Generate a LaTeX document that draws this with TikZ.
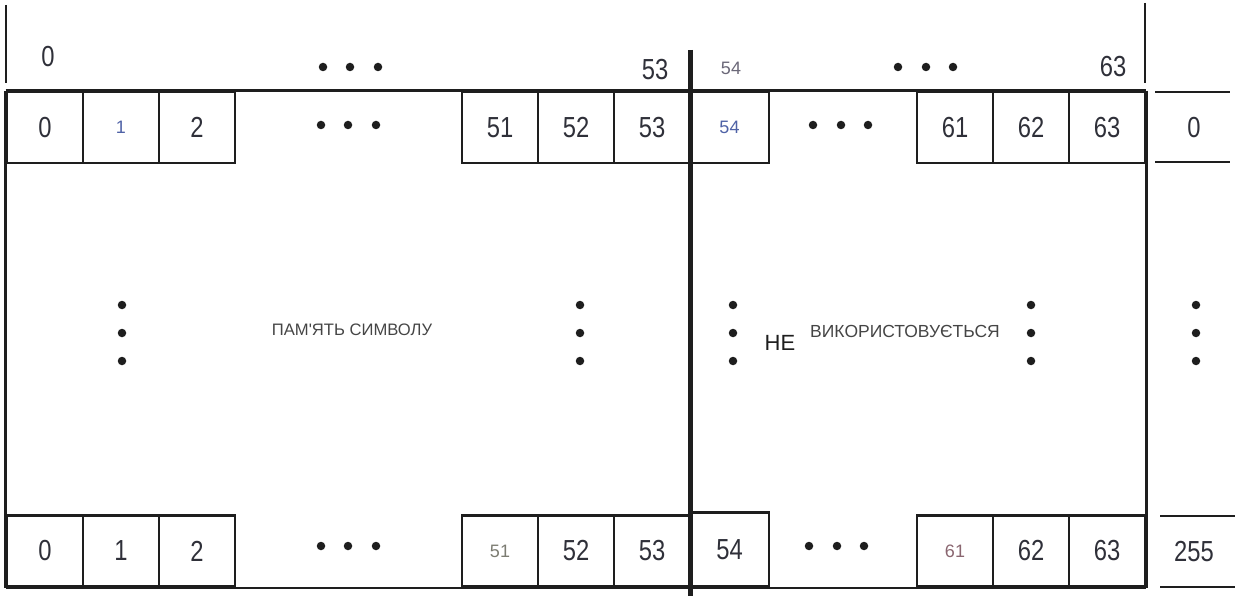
\documentclass[tikz,border=0pt]{standalone}
\usepackage{fontspec}
\newfontfamily\numfont[FakeStretch=0.82]{Liberation Sans}
\newfontfamily\labfont{Liberation Sans}
\definecolor{ink}{HTML}{1E1E1E}
\definecolor{num}{HTML}{2F3039}
\definecolor{bluenum}{HTML}{4F62A6}
\definecolor{graynum}{HTML}{6B6878}
\definecolor{olivenum}{HTML}{7C7C72}
\definecolor{mauvenum}{HTML}{8A6670}
\definecolor{labgray}{HTML}{454545}
\newcommand{\smallnum}[2]{\textcolor{#1}{\labfont\fontsize{18}{20}\selectfont #2}}
\begin{document}
\begin{tikzpicture}[x=1pt,y=-1pt,
  line width=2.8pt, draw=ink,
  cell/.style={draw=ink, line width=2.8pt, minimum width=76pt, minimum height=71pt,
    inner sep=0pt, text=num, font=\numfont\fontsize{29}{30}\selectfont},
  big/.style={text=num, font=\numfont\fontsize{29}{30}\selectfont, inner sep=0pt},
  small/.style={font=\labfont\fontsize{18}{20}\selectfont, inner sep=0pt},
  dot/.style={circle, fill=ink, inner sep=0pt, minimum size=8.5pt},
  memlabel/.style={text=labgray, inner sep=0pt}]
\useasboundingbox (0,0) rectangle (1240,596);

% ---- first character row ----
\node[cell] (t0)  at (45,127.5)  {0};
\node[cell] (t1)  at (121,127.5) {\smallnum{bluenum}{1}};
\node[cell] (t2)  at (197,127.5) {2};
\node[cell] (t51) at (500,127.5) {51};
\node[cell] (t52) at (576,127.5) {52};
\node[cell] (t53) at (652,127.5) {53};
\node[cell, minimum width=79pt] (t54) at (729.5,127.5) {\smallnum{bluenum}{54}};
\node[cell] (t61) at (955,127.5)  {61};
\node[cell] (t62) at (1031,127.5) {62};
\node[cell] (t63) at (1107,127.5) {63};

% ---- last character row ----
\node[cell] (b0)  at (45,551)  {0};
\node[cell] (b1)  at (121,551) {1};
\node[cell] (b2)  at (197,551) {2};
\node[cell] (b51) at (500,551) {\smallnum{olivenum}{51}};
\node[cell] (b52) at (576,551) {52};
\node[cell] (b53) at (652,551) {53};
\node[cell, minimum width=79pt, minimum height=74pt] (b54) at (729.5,549.5) {54};
\node[cell] (b61) at (955,551)  {\smallnum{mauvenum}{61}};
\node[cell] (b62) at (1031,551) {62};
\node[cell] (b63) at (1107,551) {63};

% ---- outer frame of the memory area ----
\draw (t0.north west) -- (t63.north east);
\draw (b0.south west) -- (b63.south east);
\draw (t0.north west) -- (b0.south west);
\draw (t63.north east) -- (b63.south east);

% ---- stubs above the frame ----
\coordinate (ls1) at (6,5);   \coordinate (ls2) at (6,83);
\coordinate (rs1) at (1145,3); \coordinate (rs2) at (1145,83);
\draw (ls1) -- (ls2);
\draw (rs1) -- (rs2);

% ---- divider between used and unused memory ----
\coordinate (d1) at (690,50); \coordinate (d2) at (690,596);
\draw[line width=5pt] (d1) -- (d2);

% ---- column numbers ----
\node[big] (h0)  at (48,57)  {0};
\node[big] (h53) at (655,70) {53};
\node[small, text=graynum] (h54) at (731,68) {54};
\node[big] (h63) at (1113,67) {63};
\node[dot] (hd1) at (323,67) {}; \node[dot] (hd2) at (350,67) {}; \node[dot] (hd3) at (378,67) {};
\node[dot] (hd4) at (898,67) {}; \node[dot] (hd5) at (926,67) {}; \node[dot] (hd6) at (953,67) {};

% ---- horizontal ellipses in the rows ----
\node[dot] (td1) at (321,125) {}; \node[dot] (td2) at (348,125) {}; \node[dot] (td3) at (376,125) {};
\node[dot] (td4) at (813,125) {}; \node[dot] (td5) at (841,125) {}; \node[dot] (td6) at (868,125) {};
\node[dot] (bd1) at (321,546) {}; \node[dot] (bd2) at (348,546) {}; \node[dot] (bd3) at (376,546) {};
\node[dot] (bd4) at (809,546) {}; \node[dot] (bd5) at (837,546) {}; \node[dot] (bd6) at (864,546) {};

% ---- vertical ellipses ----
\foreach \x/\n in {122/a,580/b,733/c,1031/d,1196/e}{
  \node[dot] (v\n1) at (\x,305) {};
  \node[dot] (v\n2) at (\x,333) {};
  \node[dot] (v\n3) at (\x,361) {};
}

% ---- row numbers on the right ----
\coordinate (r1a) at (1155,92);  \coordinate (r1b) at (1230,92);
\coordinate (r2a) at (1155,162); \coordinate (r2b) at (1230,162);
\coordinate (r3a) at (1160,516); \coordinate (r3b) at (1235,516);
\coordinate (r4a) at (1160,587); \coordinate (r4b) at (1235,587);
\draw (r1a) -- (r1b); \draw (r2a) -- (r2b);
\draw (r3a) -- (r3b); \draw (r4a) -- (r4b);
\node[big] (row0)   at (1194,128) {0};
\node[big] (row255) at (1194,552) {255};

% ---- area labels ----
\node[memlabel, font=\labfont\fontsize{16.6}{18}\selectfont] (mem) at (352,330) {ПАМ'ЯТЬ СИМВОЛУ};
\node[text=ink, font=\labfont\fontsize{22}{24}\selectfont, inner sep=0pt] (ne) at (780,343) {НЕ};
\node[memlabel, font=\labfont\fontsize{17.5}{19}\selectfont] (unused) at (905,331) {ВИКОРИСТОВУЄТЬСЯ};
\end{tikzpicture}
\end{document}
